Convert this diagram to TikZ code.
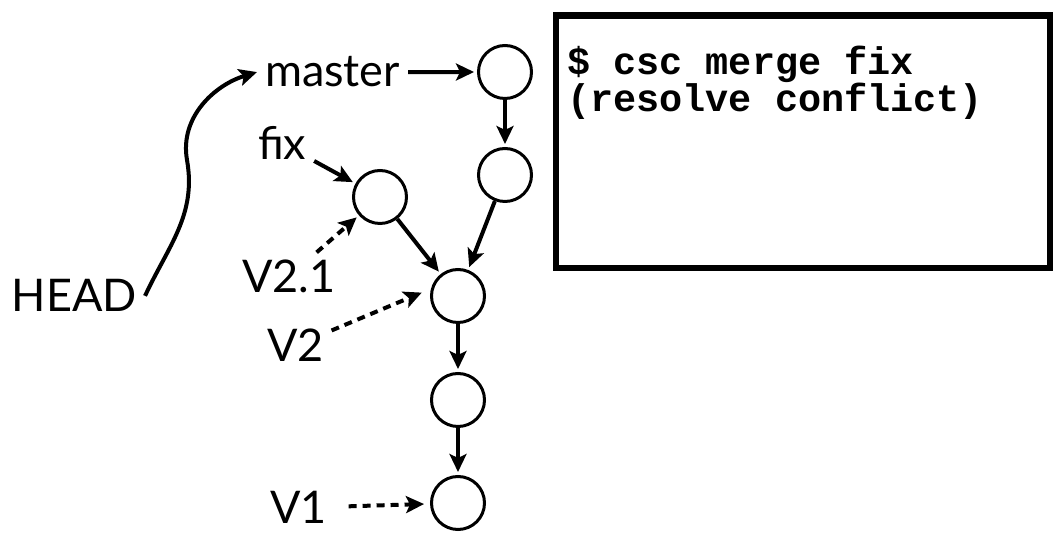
\documentclass[tikz,border=0pt]{standalone}
\usepackage{fontspec}
\setmainfont{Lato}
\newfontfamily\cmdfont{Liberation Mono}
\usetikzlibrary{arrows.meta, positioning}

\begin{document}
\begin{tikzpicture}[x=1pt, y=1pt,
  commit/.style={circle, draw, line width=3pt, minimum size=53pt, inner sep=0pt},
  reflabel/.style={inner sep=6pt, outer sep=2pt, anchor=base west, font=\fontsize{45}{52}\selectfont},
  link/.style={line width=4pt, -{Stealth[length=18pt, width=17pt, inset=4pt]}, shorten >=3pt},
  tagline/.style={link, dash pattern=on 8pt off 6pt},
  console/.style={draw, line width=6.5pt, minimum width=494pt, minimum height=252.5pt, inner sep=0pt},
  cmdtext/.style={anchor=base west, align=left, inner sep=0pt, font=\cmdfont\bfseries\fontsize{38.5}{36}\selectfont}]
  \useasboundingbox (0,0) rectangle (1053,540);
  % commits
  \node[commit] (c1) at (505,468) {};
  \node[commit] (c2) at (505,365) {};
  \node[commit] (cf) at (380,343) {};
  \node[commit] (c3) at (458,244) {};
  \node[commit] (c4) at (458,140) {};
  \node[commit] (c5) at (458,37) {};
  % refs
  \node[reflabel] (master) at (257,453) {master};
  \node[reflabel] (fix) at (250,380) {fix};
  \node[reflabel] (v21) at (234,247) {V2.1};
  \node[reflabel] (head) at (4,228) {HEAD};
  \node[reflabel] (v2) at (259,178) {V2};
  \node[reflabel] (v1) at (262,16) {V1};
  \coordinate (bend) at (187,380);
  % history
  \foreach \a/\b in {c1/c2, c2/c3, cf/c3, c3/c4, c4/c5}
    \draw[link] (\a) -- (\b);
  % branches and HEAD
  \draw[link] (master) -- (c1);
  \draw[link] (fix) -- (cf);
  \draw[link, shorten >=0pt] (head.east) to[out=65, in=-80] (bend) to[out=100, in=197] (master.west);
  % tags
  \draw[tagline] (v21) -- (cf);
  \draw[tagline, shorten >=10pt] (v2) -- (c3.165);
  \draw[tagline, shorten <=14pt, shorten >=6pt] (v1) -- (c5);
  % console
  \node[console] (term) at (803,398.25) {};
  \node[cmdtext] (cmd) at (567,428) {\$ csc merge fix\\(resolve conflict)};
\end{tikzpicture}
\end{document}
